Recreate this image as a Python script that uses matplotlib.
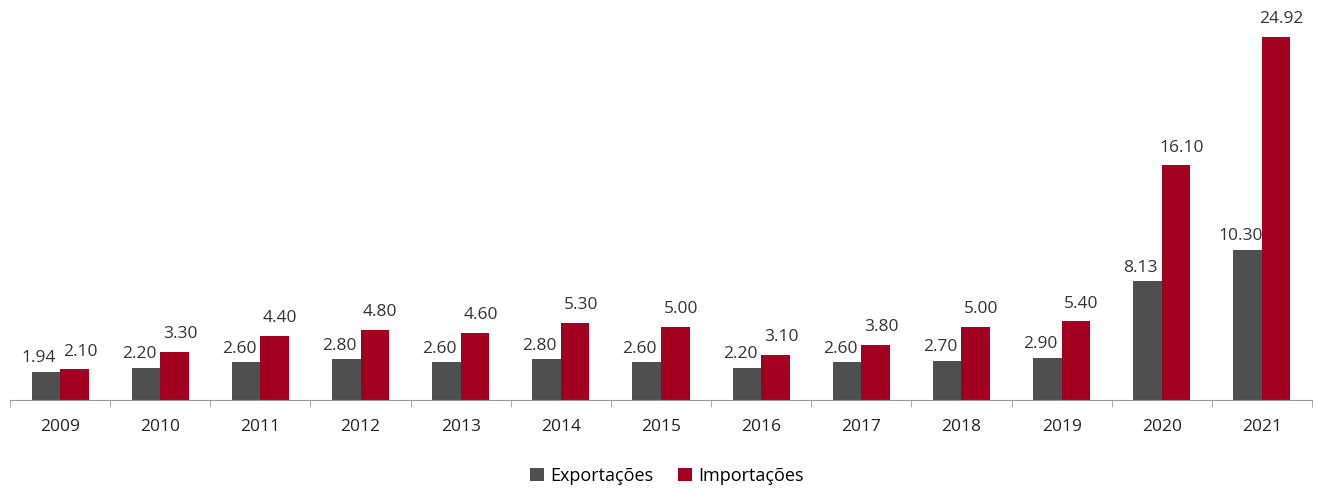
import numpy as np
import matplotlib.pyplot as plt

years = ["2009", "2010", "2011", "2012", "2013", "2014", "2015",
         "2016", "2017", "2018", "2019", "2020", "2021"]
exportacoes = [1.94, 2.20, 2.60, 2.80, 2.60, 2.80, 2.60, 2.20, 2.60, 2.70, 2.90, 8.13, 10.30]
importacoes = [2.10, 3.30, 4.40, 4.80, 4.60, 5.30, 5.00, 3.10, 3.80, 5.00, 5.40, 16.10, 24.92]

plt.rcParams["font.family"] = ["Open Sans", "DejaVu Sans"]

fig = plt.figure(figsize=(13.18, 4.9), dpi=100)
ax = fig.add_axes([10 / 1318, 90 / 490, 1302 / 1318, 379 / 490])

x = np.arange(len(years))
w = 0.285
c_exp = "#4f4f4f"
c_imp = "#a30021"
b1 = ax.bar(x - w / 2, exportacoes, w, color=c_exp, label="Exportações")
b2 = ax.bar(x + w / 2, importacoes, w, color=c_imp, label="Importações")

for xi, v in zip(x, exportacoes):
    ax.annotate(f"{v:.2f}", (xi - w / 2, v), xytext=(-5, 4), textcoords="offset points",
                ha="center", va="bottom", fontsize=12.5, color="#333333")
for xi, v in zip(x, importacoes):
    ax.annotate(f"{v:.2f}", (xi + w / 2, v), xytext=(4, 7), textcoords="offset points",
                ha="center", va="bottom", fontsize=12.5, color="#333333")

ax.set_xlim(-0.5, len(years) - 0.5)
ax.set_ylim(0, 26)
ax.set_xticks(x)
ax.set_xticklabels(years, fontsize=12.5, color="#222222")
ax.set_xticks(np.arange(-0.5, len(years)), minor=True)
ax.tick_params(axis="x", which="major", length=0, pad=14)
ax.tick_params(axis="x", which="minor", length=5, color="#999999", direction="out")
ax.set_yticks([])
for s in ["top", "right", "left"]:
    ax.spines[s].set_visible(False)
ax.spines["bottom"].set_color("#999999")

fig.legend(handles=[b1, b2], loc="center", bbox_to_anchor=(667 / 1318, 1 - 476 / 490),
           ncol=2, frameon=False, fontsize=13, handlelength=0.75, handleheight=0.75,
           handletextpad=0.35, columnspacing=1.4)

fig.savefig("out.png", dpi=100)
